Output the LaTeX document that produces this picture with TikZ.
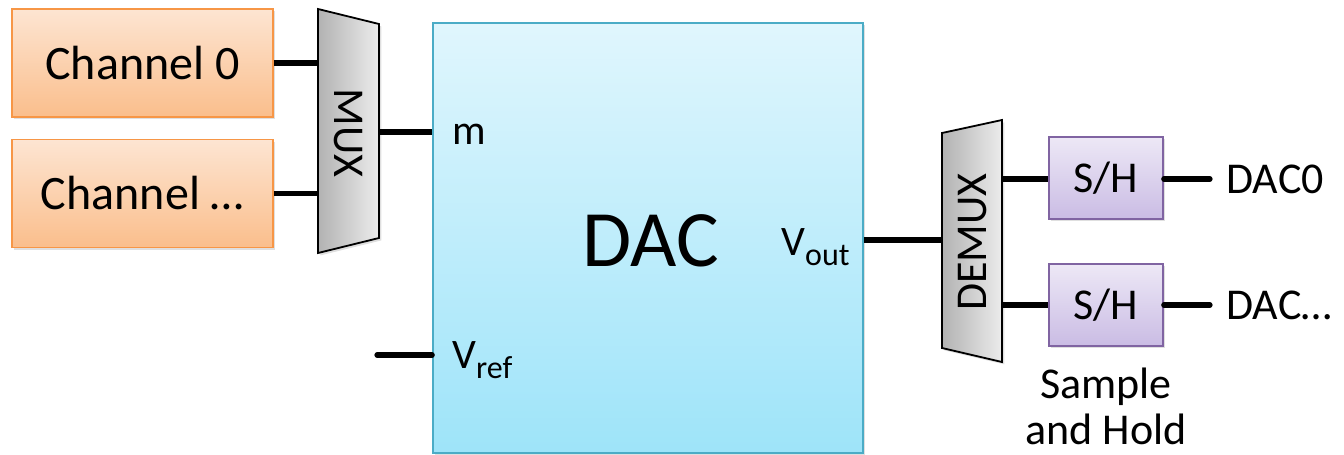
\documentclass[tikz,border=0pt]{standalone}
\usepackage{fontspec}
\setmainfont{Carlito}
\usetikzlibrary{shadows}
\definecolor{orTop}{RGB}{253,229,210}
\definecolor{orBot}{RGB}{250,190,140}
\definecolor{orBd}{RGB}{247,150,70}
\definecolor{puTop}{RGB}{237,232,246}
\definecolor{puBot}{RGB}{202,188,228}
\definecolor{puBd}{RGB}{128,100,162}
\definecolor{cyTop}{RGB}{224,246,253}
\definecolor{cyBot}{RGB}{158,228,249}
\definecolor{cyBd}{RGB}{75,172,198}
\definecolor{gyL}{RGB}{178,178,178}
\definecolor{gyR}{RGB}{236,236,236}
\tikzset{
  shad/.style={drop shadow={opacity=0.25,shadow xshift=1.2pt,shadow yshift=-1.2pt}},
  chanbox/.style={shad,draw=orBd,line width=0.8pt,top color=orTop,bottom color=orBot,
    minimum width=130.5pt,minimum height=54pt,inner sep=0pt,
    font=\fontsize{24}{28}\selectfont},
  shbox/.style={shad,draw=puBd,line width=0.8pt,top color=puTop,bottom color=puBot,
    minimum width=57pt,minimum height=41pt,inner sep=0pt,
    font=\fontsize{22}{26}\selectfont},
  dacbox/.style={shad,draw=cyBd,line width=0.8pt,top color=cyTop,bottom color=cyBot,
    minimum width=215pt,minimum height=215pt,inner sep=0pt},
  muxshape/.style={shad,draw=black,line width=0.9pt,left color=gyL,right color=gyR},
  wire/.style={line width=2.6pt,black},
  lbl/.style={inner sep=0pt,font=\fontsize{21}{25}\selectfont},
  outlbl/.style={inner sep=8pt,anchor=west,font=\fontsize{22}{26}\selectfont},
}
\newcommand{\subtxt}[1]{\raisebox{-5pt}{\fontsize{16}{18}\selectfont #1}}
\begin{document}
\begin{tikzpicture}[x=0.5pt,y=-0.5pt]
\useasboundingbox (0,0) rectangle (1344,455);
% input channels
\node[chanbox] (ch0) at (142.5,63) {Channel 0};
\node[chanbox] (chn) at (142.5,193.5) {Channel …};
% MUX
\shade[muxshape] (318,9) -- (379,24) -- (379,238) -- (318,253) -- cycle;
\node[rotate=-90,inner sep=0pt,font=\fontsize{22}{26}\selectfont] (mux) at (348,133) {MUX};
\coordinate (muxin0) at (318,63);
\coordinate (muxin1) at (318,193.5);
\coordinate (muxout) at (379,132);
% DAC
\node[dacbox] (dac) at (648,238) {};
\node[inner sep=0pt,font=\fontsize{40}{44}\selectfont] (dactxt) at (651,241) {DAC};
\node[lbl] (m) at (469,134) {m};
\node[lbl,anchor=base west] (vout) at (781,255) {V\subtxt{out}};
\node[lbl,anchor=base west] (vref) at (452,368) {V\subtxt{ref}};
\coordinate (vrefend) at (377,355);
% DEMUX
\shade[muxshape] (942,133) -- (1002,120) -- (1002,362) -- (942,348) -- cycle;
\node[rotate=90,inner sep=0pt,font=\fontsize{22}{26}\selectfont] (demux) at (973,242) {DEMUX};
\coordinate (demuxin) at (942,240);
\coordinate (demuxout0) at (1002,179);
\coordinate (demuxout1) at (1002,305);
% sample and hold
\node[shbox] (sh0) at (1106,178) {S/H};
\node[shbox] (sh1) at (1106,305) {S/H};
\node[outlbl] (dac0) at (1210,179) {DAC0};
\node[outlbl] (dacn) at (1210,305) {DAC…};
\node[align=center,inner sep=0pt,font=\fontsize{22}{23}\selectfont] (sahtxt) at (1106,406) {Sample\\and Hold};
% wires
\draw[wire] (ch0.east) -- (muxin0);
\draw[wire] (chn.east) -- (muxin1);
\draw[wire] (muxout) -- (dac.west |- muxout);
\draw[wire,line cap=round] (vrefend) -- (dac.west |- vrefend);
\draw[wire] (dac.east |- demuxin) -- (demuxin);
\draw[wire] (demuxout0) -- (sh0.west |- demuxout0);
\draw[wire] (demuxout1) -- (sh1.west |- demuxout1);
\draw[wire,line cap=round] (sh0.east |- dac0.west) -- (dac0.west);
\draw[wire,line cap=round] (sh1.east |- dacn.west) -- (dacn.west);
\end{tikzpicture}
\end{document}
